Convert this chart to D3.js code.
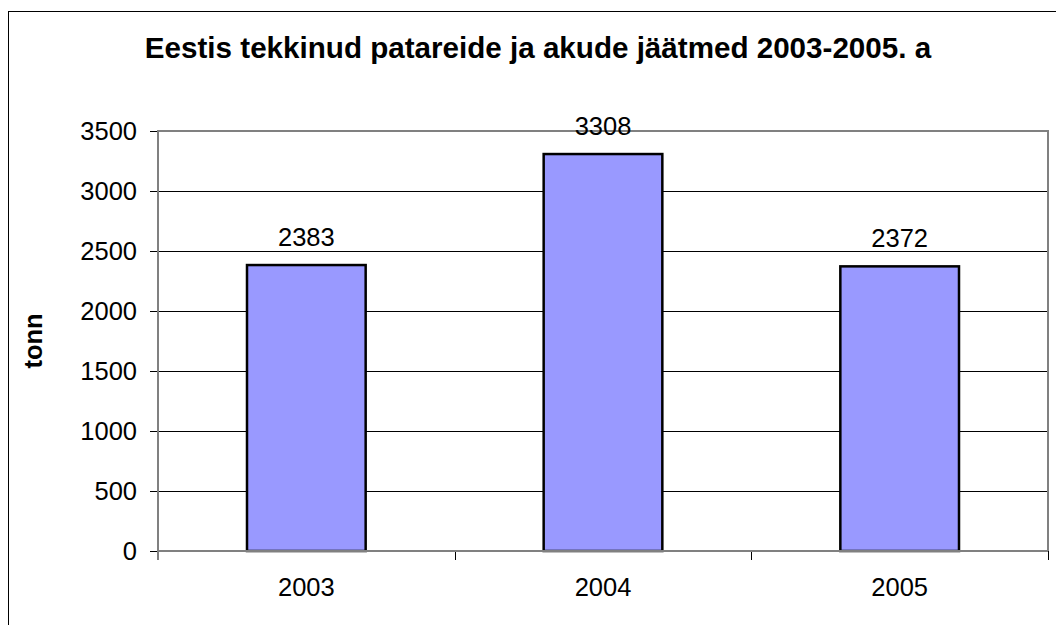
<!DOCTYPE html>
<html>
<head>
<meta charset="utf-8">
<script src="https://cdn.jsdelivr.net/npm/d3@7"></script>
<style>
  html, body { margin: 0; padding: 0; background: #fff; }
  svg { display: block; }
  text { font-family: "Liberation Sans", Arial, sans-serif; fill: #000; }
</style>
</head>
<body>
<svg id="chart" width="1056" height="625"></svg>
<script>
const titleText = "Eestis tekkinud patareide ja akude jäätmed 2003-2005. a";
const yAxisLabel = "tonn";
const categories = ["2003", "2004", "2005"];
const values = [2383, 3308, 2372];
const yTicks = [0, 500, 1000, 1500, 2000, 2500, 3000, 3500];

const svg = d3.select("#chart");
const W = 1056, H = 625;
const m = { left: 158, right: 1048, top: 131, bottom: 551 };

svg.append("rect").attr("width", W).attr("height", H).attr("fill", "#fff");
// outer chart border
svg.append("rect")
  .attr("x", 8.5).attr("y", 11.5)
  .attr("width", W + 10).attr("height", H + 10)
  .attr("fill", "none").attr("stroke", "#000").attr("stroke-width", 1);

const x = d3.scaleBand().domain(categories).range([m.left, m.right]).paddingInner(0.6).paddingOuter(0.3);
const xBand = d3.scaleBand().domain(categories).range([m.left, m.right]);
const y = d3.scaleLinear().domain([0, 3500]).range([m.bottom, m.top]);

// gridlines
svg.append("g")
  .selectAll("line")
  .data(yTicks.filter(t => t > 0 && t < 3500))
  .join("line")
  .attr("x1", m.left).attr("x2", m.right)
  .attr("y1", d => Math.round(y(d)) + 0.5).attr("y2", d => Math.round(y(d)) + 0.5)
  .attr("stroke", "#000").attr("stroke-width", 1);

// plot area border (top, right)
svg.append("path")
  .attr("d", `M${m.left},${m.top} H${m.right} V${m.bottom}`)
  .attr("fill", "none").attr("stroke", "#808080").attr("stroke-width", 2);

// bars
svg.append("g")
  .selectAll("rect")
  .data(values)
  .join("rect")
  .attr("x", (d, i) => x(categories[i]))
  .attr("y", d => y(d))
  .attr("width", x.bandwidth())
  .attr("height", d => y(0) - y(d))
  .attr("fill", "#9999FF")
  .attr("stroke", "#000")
  .attr("stroke-width", 2.5);

// value labels
svg.append("g")
  .selectAll("text")
  .data(values)
  .join("text")
  .attr("x", (d, i) => x(categories[i]) + x.bandwidth() / 2)
  .attr("y", d => y(d) - 19)
  .attr("text-anchor", "middle")
  .attr("font-size", 25.5)
  .text(d => d);

// y axis
const yAxis = d3.axisLeft(y).tickValues(yTicks).tickSize(8).tickPadding(13).tickFormat(d3.format("d"));
const gy = svg.append("g").attr("transform", `translate(${m.left},0)`).call(yAxis);
gy.select(".domain").remove();
gy.selectAll(".tick line").attr("stroke", "#000").attr("stroke-width", 1);
gy.selectAll(".tick text").attr("font-size", 25.5).attr("font-family", "Liberation Sans, Arial, sans-serif").attr("fill", "#000");

// x axis
const xAxis = d3.axisBottom(xBand).tickSize(0).tickPadding(27);
const gx = svg.append("g").attr("transform", `translate(0,${m.bottom})`).call(xAxis);
gx.select(".domain").remove();
gx.selectAll(".tick text").attr("font-size", 25.5).attr("font-family", "Liberation Sans, Arial, sans-serif").attr("fill", "#000");
// category boundary ticks
const boundaries = categories.map(c => xBand(c) + xBand.bandwidth());
svg.append("g")
  .selectAll("line")
  .data(boundaries)
  .join("line")
  .attr("x1", d => Math.round(d) + 0.5).attr("x2", d => Math.round(d) + 0.5)
  .attr("y1", m.bottom).attr("y2", m.bottom + 9)
  .attr("stroke", "#000").attr("stroke-width", 1);

// axis lines (gray)
svg.append("line")
  .attr("x1", m.left).attr("x2", m.right)
  .attr("y1", m.bottom).attr("y2", m.bottom)
  .attr("stroke", "#808080").attr("stroke-width", 2);
svg.append("line")
  .attr("x1", m.left).attr("x2", m.left)
  .attr("y1", m.top - 1).attr("y2", m.bottom + 9)
  .attr("stroke", "#808080").attr("stroke-width", 2);

// title
svg.append("text")
  .attr("x", 538).attr("y", 57.5)
  .attr("text-anchor", "middle")
  .attr("font-size", 29.6).attr("font-weight", "bold")
  .text(titleText);

// y axis label
svg.append("text")
  .attr("transform", `translate(42,${(m.top + m.bottom) / 2}) rotate(-90)`)
  .attr("text-anchor", "middle")
  .attr("font-size", 25.5).attr("font-weight", "bold")
  .text(yAxisLabel);
</script>
</body>
</html>
